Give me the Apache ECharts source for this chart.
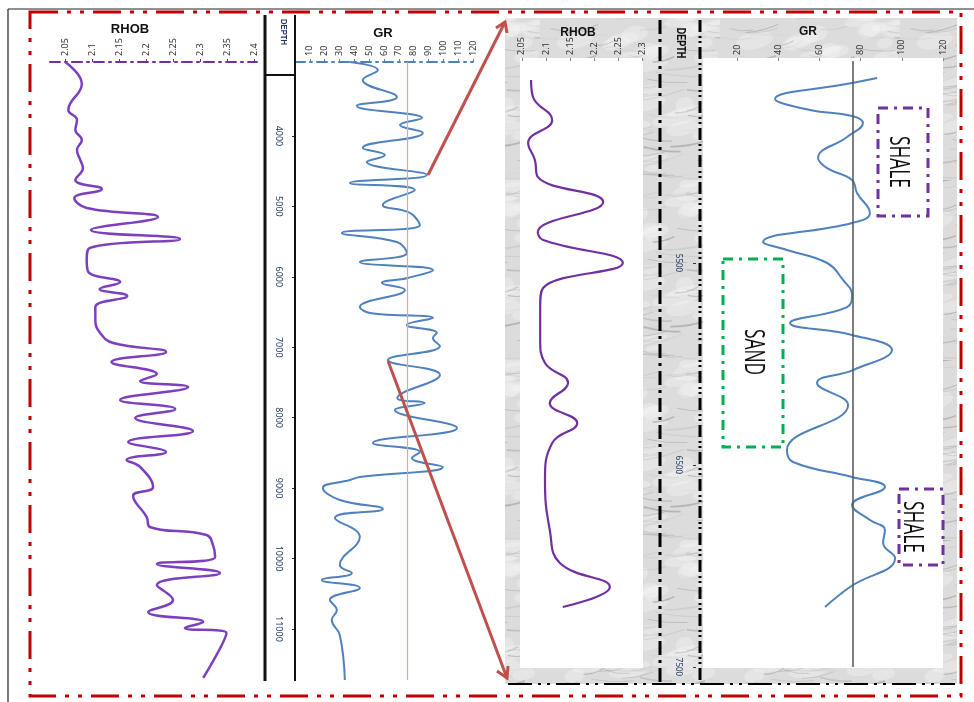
<!DOCTYPE html>
<html>
<head>
<meta charset="utf-8">
<title>RHOB / GR well log</title>
<script src="https://cdn.jsdelivr.net/npm/echarts@6/dist/echarts.min.js"></script>
<style>
  html, body { margin: 0; padding: 0; background: #fff; }
  #chart { width: 974px; height: 702px; }
</style>
</head>
<body>
<div id="chart"></div>
<script>
// ---- Full interval (left panel) ----
const rhobDepthL = [2950, 3262, 3631, 3773, 3915, 4057, 4199, 4341, 4454, 4625, 4753, 4880, 5022, 5150, 5335, 5463, 5590, 5761, 5931, 6073, 6173, 6272, 6428, 6613, 6797, 6939, 7067, 7209, 7380, 7479, 7564, 7749, 7877, 8004, 8189, 8345, 8487, 8601, 8700, 8984, 9112, 9410, 9552, 9666, 9808, 9978, 10078, 10205, 10376, 10589, 10759, 10901, 10986, 11057, 11696];
const rhobL = [2.050, 2.081, 2.056, 2.072, 2.069, 2.081, 2.072, 2.078, 2.083, 2.069, 2.118, 2.067, 2.090, 2.222, 2.098, 2.263, 2.096, 2.090, 2.093, 2.152, 2.114, 2.165, 2.106, 2.106, 2.115, 2.139, 2.237, 2.136, 2.220, 2.189, 2.278, 2.152, 2.254, 2.180, 2.287, 2.167, 2.237, 2.164, 2.189, 2.213, 2.176, 2.201, 2.207, 2.312, 2.324, 2.328, 2.220, 2.337, 2.220, 2.250, 2.204, 2.306, 2.272, 2.349, 2.306];

const grDepthL = [2950, 3063, 3205, 3446, 3574, 3744, 3844, 3957, 4170, 4270, 4369, 4554, 4667, 4767, 4980, 5093, 5264, 5377, 5505, 5661, 5789, 5903, 6016, 6087, 6187, 6428, 6513, 6584, 6684, 6797, 6868, 6982, 7181, 7394, 7720, 7791, 7891, 8146, 8359, 8487, 8572, 8700, 8842, 8885, 8998, 9169, 9297, 9424, 9694, 10092, 10205, 10305, 10418, 10589, 10731, 10873, 11086, 11725];
const grL = [37.0, 55.9, 45.7, 68.7, 41.7, 85.6, 70.7, 86.2, 45.7, 60.6, 48.4, 88.9, 37.0, 80.8, 59.2, 77.5, 84.2, 31.6, 68.7, 75.4, 43.7, 93.0, 76.1, 58.6, 74.1, 43.7, 50.5, 93.0, 75.4, 95.6, 93.0, 97.7, 62.6, 97.7, 69.0, 87.4, 67.3, 109.2, 52.5, 84.2, 78.8, 99.7, 43.7, 37.0, 18.8, 30.2, 59.2, 26.9, 43.7, 30.2, 38.3, 18.1, 43.7, 23.5, 28.2, 24.8, 30.2, 33.6];

// ---- Detail interval (right panel) ----
const rhobDepthR = [4594, 4678, 4792, 4906, 4990, 5074, 5198, 5347, 5386, 5500, 5624, 5718, 5881, 5995, 6094, 6193, 6292, 6391, 6574, 6822, 6985, 7104, 7203];
const rhobR = [2.069, 2.073, 2.113, 2.063, 2.077, 2.083, 2.219, 2.083, 2.094, 2.260, 2.094, 2.088, 2.088, 2.098, 2.146, 2.108, 2.165, 2.113, 2.098, 2.108, 2.129, 2.233, 2.135];

const grDepthR = [4584, 4609, 4688, 4743, 4772, 4807, 4876, 4980, 5030, 5089, 5153, 5252, 5302, 5396, 5436, 5500, 5584, 5658, 5718, 5797, 5856, 5931, 6030, 6094, 6203, 6426, 6485, 6559, 6609, 6698, 6772, 6822, 6886, 6960, 7104, 7203];
const grR = [88.0, 75.8, 38.4, 55.4, 75.8, 81.1, 73.4, 59.3, 63.7, 75.8, 78.2, 84.5, 75.8, 32.6, 44.2, 63.7, 71.4, 75.8, 73.4, 45.7, 75.8, 95.2, 76.3, 58.8, 73.9, 44.2, 47.1, 75.8, 91.8, 75.8, 84.5, 91.8, 90.9, 96.7, 74.8, 62.7];

// Shale / sand GR cut-off
const grCutoff = 76;

// ---- Tick labels ----
const rhobTicksL = [2.05, 2.1, 2.15, 2.2, 2.25, 2.3, 2.35, 2.4];
const grTicksL = [10, 20, 30, 40, 50, 60, 70, 80, 90, 100, 110, 120];
const depthTicksL = [4000, 5000, 6000, 7000, 8000, 9000, 10000, 11000];
const rhobTicksR = [2.05, 2.1, 2.15, 2.2, 2.25, 2.3];
const grTicksR = [20, 40, 60, 80, 100, 120];
const depthTicksR = [5500, 6500, 7500];

const pairs = (vals, depths) => vals.map((v, i) => [v, depths[i]]);

// Marble-like texture for the detail panel background
function marble() {
  const c = document.createElement('canvas');
  c.width = 180; c.height = 180;
  const g = c.getContext('2d');
  g.fillStyle = '#dcdcdc';
  g.fillRect(0, 0, 180, 180);
  const h = k => { const s = Math.sin(k * 12.9898) * 43758.5453; return s - Math.floor(s); };
  // soft light patches
  for (let i = 0; i < 40; i++) {
    const x = h(i + 901) * 180, y = h(i + 951) * 180;
    g.fillStyle = 'rgba(245,245,245,0.35)';
    g.beginPath();
    g.ellipse(x, y, 8 + h(i + 991) * 18, 3 + h(i + 1031) * 6, -0.2, 0, Math.PI * 2);
    g.fill();
  }
  // gray veins
  for (let i = 0; i < 110; i++) {
    const x = h(i + 1) * 180, y = h(i + 101) * 180;
    const len = 10 + h(i + 201) * 45;
    const ang = -0.35 + h(i + 301) * 0.5;
    const shade = 120 + Math.floor(h(i + 401) * 100);
    g.strokeStyle = 'rgba(' + shade + ',' + shade + ',' + shade + ',0.4)';
    g.lineWidth = 0.5 + h(i + 501) * 1.2;
    g.beginPath();
    g.moveTo(x, y);
    g.quadraticCurveTo(x + len * 0.5, y + Math.sin(ang) * len * 0.5 + 3, x + len * Math.cos(ang), y + len * Math.sin(ang));
    g.stroke();
  }
  return c;
}

const tickFont = { fontFamily: 'Noto Sans', fontSize: 9, color: '#333' };
const fmt = v => String(+(+v).toFixed(2));
const plain = v => String(v);

function xAxisTop(gridIndex, min, max, ticks, lineColor) {
  return {
    type: 'value', gridIndex, min, max, position: 'top',
    splitLine: { show: false },
    axisLine: lineColor
      ? { show: true, lineStyle: { color: lineColor, width: 2, type: [10, 5, 2, 5] } }
      : { show: false },
    axisTick: { show: true, customValues: ticks, length: 3, lineStyle: { color: lineColor || '#888' } },
    axisLabel: Object.assign({ customValues: ticks, rotate: -90, margin: 6, formatter: fmt }, tickFont)
  };
}

const chart = echarts.init(document.getElementById('chart'), null, { renderer: 'canvas' });

const curveBase = { type: 'line', showSymbol: false, smooth: 0.45 };

const option = {
  animation: false,
  backgroundColor: '#fff',
  grid: [
    { left: 50, top: 62, width: 207, height: 618 },
    { left: 295, top: 62, width: 178, height: 618 },
    { left: 520, top: 61, width: 123, height: 606 },
    { left: 696, top: 61, width: 247, height: 606 }
  ],
  xAxis: [
    xAxisTop(0, 2.022, 2.4056, rhobTicksL, '#7030a0'),
    xAxisTop(1, 0, 120, grTicksL, '#4f81bd'),
    xAxisTop(2, 2.046, 2.302, rhobTicksR, null),
    xAxisTop(3, 0, 120, grTicksR, null)
  ],
  yAxis: [
    { type: 'value', gridIndex: 0, min: 2950, max: 11725, inverse: true, show: false, splitLine: { show: false } },
    {
      type: 'value', gridIndex: 1, min: 2950, max: 11725, inverse: true, position: 'left',
      splitLine: { show: false },
      axisLine: { show: false },
      axisTick: { show: true, customValues: depthTicksL, length: 3, lineStyle: { color: '#333' } },
      axisLabel: Object.assign({ customValues: depthTicksL, rotate: -90, margin: 12, formatter: plain }, tickFont, { color: '#1f3864', fontSize: 9 })
    },
    { type: 'value', gridIndex: 2, min: 4500, max: 7500, inverse: true, show: false, splitLine: { show: false } },
    {
      type: 'value', gridIndex: 3, min: 4500, max: 7500, inverse: true, position: 'left',
      splitLine: { show: false },
      axisLine: { show: false },
      axisTick: { show: true, customValues: depthTicksR, length: 3, lineStyle: { color: '#333' } },
      axisLabel: Object.assign({ customValues: depthTicksR, rotate: -90, margin: 14, formatter: plain }, tickFont, { fontSize: 8, color: '#1f3864' })
    }
  ],
  series: [
    Object.assign({}, curveBase, {
      name: 'RHOB', xAxisIndex: 0, yAxisIndex: 0,
      data: pairs(rhobL, rhobDepthL),
      lineStyle: { color: '#7b3fbf', width: 2.5 }
    }),
    Object.assign({}, curveBase, {
      name: 'GR', xAxisIndex: 1, yAxisIndex: 1,
      data: pairs(grL, grDepthL),
      lineStyle: { color: '#4f81bd', width: 2 },
      markLine: {
        silent: true, symbol: 'none', label: { show: false },
        lineStyle: { color: '#e3a3a3', width: 1.2, type: 'solid' },
        data: [{ xAxis: grCutoff }]
      }
    }),
    Object.assign({}, curveBase, {
      name: 'RHOB detail', xAxisIndex: 2, yAxisIndex: 2,
      data: pairs(rhobR, rhobDepthR),
      lineStyle: { color: '#7030a0', width: 2.2 }
    }),
    Object.assign({}, curveBase, {
      name: 'GR detail', xAxisIndex: 3, yAxisIndex: 3,
      data: pairs(grR, grDepthR),
      lineStyle: { color: '#4f81bd', width: 2 },
      markLine: {
        silent: true, symbol: 'none', label: { show: false },
        lineStyle: { color: '#555', width: 1.5, type: 'solid' },
        data: [{ xAxis: grCutoff }]
      }
    })
  ],
  graphic: [
    // detail panel background and plot areas
    { type: 'rect', z: -5, shape: { x: 505, y: 18, width: 452, height: 666 }, style: { fill: { image: marble(), repeat: 'repeat' } } },
    { type: 'rect', z: -4, shape: { x: 520, y: 58, width: 123, height: 610 }, style: { fill: '#fff' } },
    { type: 'rect', z: -4, shape: { x: 703, y: 58, width: 240, height: 610 }, style: { fill: '#fff' } },

    // outer thin frame
    { type: 'line', z: 10, shape: { x1: 8, y1: 9, x2: 974, y2: 9 }, style: { stroke: '#222', lineWidth: 1.2 } },
    { type: 'line', z: 10, shape: { x1: 8, y1: 9, x2: 8, y2: 702 }, style: { stroke: '#222', lineWidth: 1.2 } },

    // red dash-dot border
    { type: 'rect', z: 10, shape: { x: 30, y: 12, width: 931, height: 684 },
      style: { fill: 'none', stroke: '#c00000', lineWidth: 3, lineDash: [28, 9, 4, 9, 4, 9] } },

    // left depth track borders
    { type: 'line', z: 10, shape: { x1: 265, y1: 15, x2: 265, y2: 681 }, style: { stroke: '#111', lineWidth: 3 } },
    { type: 'line', z: 10, shape: { x1: 295, y1: 15, x2: 295, y2: 681 }, style: { stroke: '#111', lineWidth: 2 } },
    { type: 'line', z: 10, shape: { x1: 265, y1: 75, x2: 295, y2: 75 }, style: { stroke: '#111', lineWidth: 2 } },

    // detail panel depth track borders
    { type: 'line', z: 10, shape: { x1: 660, y1: 20, x2: 660, y2: 683 }, style: { stroke: '#000', lineWidth: 3, lineDash: [14, 5, 3, 5] } },
    { type: 'line', z: 10, shape: { x1: 700, y1: 20, x2: 700, y2: 683 }, style: { stroke: '#000', lineWidth: 3, lineDash: [12, 4, 2, 3, 2, 4] } },
    { type: 'line', z: 10, shape: { x1: 508, y1: 684, x2: 955, y2: 684 }, style: { stroke: '#000', lineWidth: 2, lineDash: [24, 6, 3, 6, 3, 6] } },

    // headers
    { type: 'text', z: 11, x: 130, y: 29, style: { text: 'RHOB', font: 'bold 13px "Liberation Sans"', fill: '#111', align: 'center', verticalAlign: 'middle' } },
    { type: 'text', z: 11, x: 383, y: 33, style: { text: 'GR', font: 'bold 13px "Liberation Sans"', fill: '#111', align: 'center', verticalAlign: 'middle' } },
    { type: 'text', z: 11, x: 283, y: 32, rotation: -Math.PI / 2, scaleX: 0.85, style: { text: 'DEPTH', font: 'bold 9px "Liberation Sans"', fill: '#1f3864', align: 'center', verticalAlign: 'middle' } },
    { type: 'text', z: 11, x: 578, y: 33, style: { text: 'RHOB', font: 'bold 12px "Liberation Sans"', fill: '#111', align: 'center', verticalAlign: 'middle' } },
    { type: 'text', z: 11, x: 808, y: 32, style: { text: 'GR', font: 'bold 12px "Liberation Sans"', fill: '#111', align: 'center', verticalAlign: 'middle' } },
    { type: 'text', z: 11, x: 680, y: 43, rotation: -Math.PI / 2, scaleX: 0.75, style: { text: 'DEPTH', font: 'bold 12px "Liberation Sans"', fill: '#111', align: 'center', verticalAlign: 'middle' } },

    // lithology boxes
    { type: 'rect', z: 11, shape: { x: 878, y: 108, width: 50, height: 108 }, style: { fill: 'none', stroke: '#7030a0', lineWidth: 3, lineDash: [10, 6, 3, 6] } },
    { type: 'text', z: 11, x: 898, y: 162, rotation: -Math.PI / 2, scaleX: 0.62, style: { text: 'SHALE', font: '28px "Open Sans"', fill: '#111', align: 'center', verticalAlign: 'middle' } },
    { type: 'rect', z: 11, shape: { x: 723, y: 259, width: 60, height: 188 }, style: { fill: 'none', stroke: '#00b050', lineWidth: 3, lineDash: [10, 6, 3, 6] } },
    { type: 'text', z: 11, x: 753, y: 352, rotation: -Math.PI / 2, scaleX: 0.62, style: { text: 'SAND', font: '28px "Open Sans"', fill: '#111', align: 'center', verticalAlign: 'middle' } },
    { type: 'rect', z: 11, shape: { x: 899, y: 489, width: 44, height: 76 }, style: { fill: 'none', stroke: '#7030a0', lineWidth: 3, lineDash: [10, 6, 3, 6] } },
    { type: 'text', z: 11, x: 912, y: 527, rotation: -Math.PI / 2, scaleX: 0.62, style: { text: 'SHALE', font: '28px "Open Sans"', fill: '#111', align: 'center', verticalAlign: 'middle' } },

    // arrows from the full log to the detail panel
    { type: 'line', z: 12, shape: { x1: 428, y1: 175, x2: 505, y2: 22 }, style: { stroke: '#c0504d', lineWidth: 3 } },
    { type: 'polyline', z: 12, shape: { points: [[496, 28], [505, 22], [507, 33]] }, style: { stroke: '#c0504d', lineWidth: 3, fill: 'none' } },
    { type: 'line', z: 12, shape: { x1: 388, y1: 361, x2: 507, y2: 678 }, style: { stroke: '#c0504d', lineWidth: 3 } },
    { type: 'polyline', z: 12, shape: { points: [[497, 671], [507, 678], [508, 666]] }, style: { stroke: '#c0504d', lineWidth: 3, fill: 'none' } }
  ]
};

chart.setOption(option);
</script>
</body>
</html>
